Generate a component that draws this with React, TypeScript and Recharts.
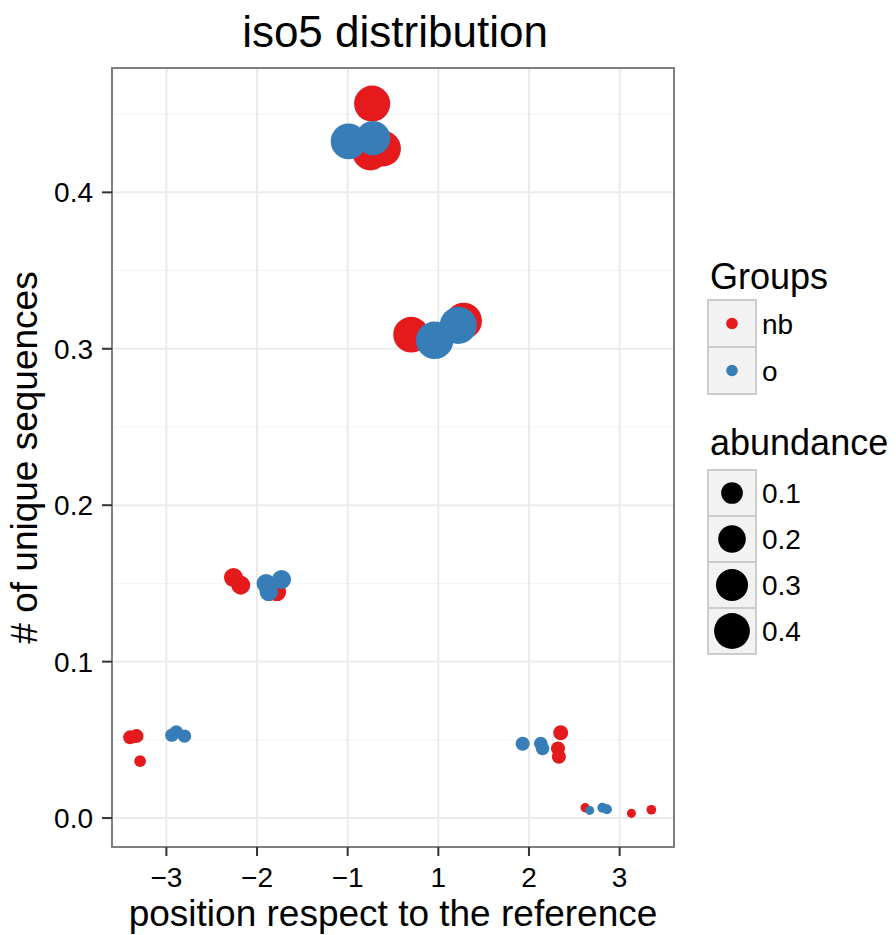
import { ScatterChart, Scatter, XAxis, YAxis, CartesianGrid, ReferenceArea, Label } from "recharts"

// discrete x categories (position respect to the reference)
const positionLabels = ["−3", "−2", "−1", "1", "2", "3"]
const yTicks = [0, 0.1, 0.2, 0.3, 0.4]
const yMinor = [0.05, 0.15, 0.25, 0.35, 0.45]
const abundanceBreaks = [0.1, 0.2, 0.3, 0.4]

// group "nb": category index (1..6), horizontal jitter, y value, abundance
const nbCategory = [1, 1, 1, 2, 2, 2, 3, 3, 3, 4, 4, 5, 5, 5, 6, 6, 6]
const nbJitter = [-0.4, -0.33, -0.29, -0.26, -0.18, 0.22, 0.27, 0.25, 0.39, -0.3, 0.28, 0.35, 0.32, 0.33, -0.38, 0.13, 0.35]
const nbSequences = [0.0516, 0.0524, 0.0364, 0.1538, 0.1489, 0.1446, 0.4567, 0.4256, 0.428, 0.309, 0.3178, 0.0545, 0.0445, 0.0392, 0.0066, 0.003, 0.0053]
const nbAbundance = [0.023, 0.023, 0.0115, 0.066, 0.066, 0.06, 0.41, 0.41, 0.4, 0.4, 0.42, 0.029, 0.023, 0.023, 0.0057, 0.0054, 0.0062]

// group "o"
const oCategory = [1, 1, 1, 2, 2, 2, 3, 3, 4, 4, 5, 5, 5, 6, 6, 6]
const oJitter = [0.06, 0.11, 0.2, 0.1, 0.13, 0.27, 0.01, 0.28, -0.04, 0.22, -0.07, 0.13, 0.15, -0.33, -0.19, -0.14]
const oSequences = [0.053, 0.0551, 0.0524, 0.15, 0.1446, 0.1525, 0.4326, 0.4347, 0.3054, 0.315, 0.0475, 0.0477, 0.0445, 0.0049, 0.0066, 0.0056]
const oAbundance = [0.019, 0.019, 0.019, 0.066, 0.06, 0.066, 0.4, 0.36, 0.45, 0.44, 0.023, 0.02, 0.02, 0.0054, 0.0068, 0.0068]

const RED = "#E41A1C"
const BLUE = "#377EB8"
const FONT = "'Liberation Sans', Arial, Helvetica, sans-serif"

const nbData = nbCategory.map((c, i) => ({ x: c + nbJitter[i], y: nbSequences[i], abundance: nbAbundance[i] }))
const oData = oCategory.map((c, i) => ({ x: c + oJitter[i], y: oSequences[i], abundance: oAbundance[i] }))

// area-style size scale, like ggplot's scale_size
function radiusOf(a: number) {
  return (8.15 + 44 * Math.sqrt(Math.max(a - 0.005, 0))) / 2
}

const dot = (color: string) => (props: any) => {
  const { cx, cy, payload } = props
  if (cx == null || cy == null) return null
  return <circle cx={cx} cy={cy} r={radiusOf(payload.abundance)} fill={color} />
}

const X_DOMAIN: [number, number] = [0.4, 6.6]
const Y_DOMAIN: [number, number] = [-0.0185, 0.4795]

export default function App() {
  const keyX = 708
  const keyW = 48
  const keyH = 47

  return (
    <div style={{ position: "absolute", left: 0, top: 0, width: 896, height: 935, background: "#fff", fontFamily: FONT }}>
      <ScatterChart width={896} height={935} margin={{ top: 68, right: 222, bottom: 0, left: 0 }}>
        <CartesianGrid
          horizontalValues={yMinor}
          vertical={false}
          stroke="#F4F4F4"
          strokeWidth={1}
        />
        <CartesianGrid
          horizontalValues={yTicks}
          verticalValues={[1, 2, 3, 4, 5, 6]}
          stroke="#EBEBEB"
          strokeWidth={2}
        />
        <XAxis
          type="number"
          dataKey="x"
          domain={X_DOMAIN}
          ticks={[1, 2, 3, 4, 5, 6]}
          interval={0}
          allowDataOverflow
          tickFormatter={(v) => positionLabels[Math.round(v) - 1]}
          height={88}
          axisLine={false}
          tickSize={9}
          tickMargin={11}
          tickLine={{ stroke: "#333", strokeWidth: 2 }}
          tick={{ fontSize: 28, fill: "#000", fontFamily: FONT }}
        >
          <Label
            value="position respect to the reference"
            position="insideBottom"
            offset={9}
            style={{ fontSize: 37, fill: "#000", fontFamily: FONT, textAnchor: "middle" }}
          />
        </XAxis>
        <YAxis
          type="number"
          dataKey="y"
          domain={Y_DOMAIN}
          ticks={yTicks}
          interval={0}
          allowDataOverflow
          tickFormatter={(v) => Number(v).toFixed(1)}
          width={112}
          axisLine={false}
          tickSize={10}
          tickMargin={9}
          tickLine={{ stroke: "#333", strokeWidth: 2 }}
          tick={{ fontSize: 28, fill: "#000", fontFamily: FONT }}
        >
          <Label
            value="# of unique sequences"
            position="insideLeft"
            angle={-90}
            offset={24}
            style={{ fontSize: 37, fill: "#000", fontFamily: FONT, textAnchor: "middle" }}
          />
        </YAxis>
        <ReferenceArea
          x1={X_DOMAIN[0]}
          x2={X_DOMAIN[1]}
          y1={Y_DOMAIN[0]}
          y2={Y_DOMAIN[1]}
          fill="none"
          stroke="#7F7F7F"
          strokeWidth={2}
          ifOverflow="visible"
        />
        <Scatter name="nb" data={nbData} fill={RED} shape={dot(RED)} isAnimationActive={false} />
        <Scatter name="o" data={oData} fill={BLUE} shape={dot(BLUE)} isAnimationActive={false} />
      </ScatterChart>

      {/* title + legends */}
      <svg width={896} height={935} style={{ position: "absolute", left: 0, top: 0, pointerEvents: "none" }} fontFamily={FONT}>
        <text x={395} y={47} fontSize={44} textAnchor="middle" fill="#000">iso5 distribution</text>

        <text x={710} y={289} fontSize={36} fill="#000">Groups</text>
        {[["nb", RED], ["o", BLUE]].map(([name, color], i) => {
          const top = 300 + i * keyH
          return (
            <g key={name}>
              <rect x={keyX} y={top} width={keyW} height={keyH} fill="#F2F2F2" stroke="#CCCCCC" strokeWidth={2} />
              <circle cx={keyX + keyW / 2} cy={top + keyH / 2} r={5.8} fill={color} />
              <text x={762} y={top + keyH / 2 + 10} fontSize={28} fill="#000">{name}</text>
            </g>
          )
        })}

        <text x={710} y={455} fontSize={36} fill="#000">abundance</text>
        {abundanceBreaks.map((a, i) => {
          const top = 470 + i * 46
          return (
            <g key={a}>
              <rect x={keyX} y={top} width={keyW} height={46} fill="#F2F2F2" stroke="#CCCCCC" strokeWidth={2} />
              <circle cx={keyX + keyW / 2} cy={top + 23} r={radiusOf(a)} fill="#000" />
              <text x={762} y={top + 23 + 10} fontSize={28} fill="#000">{a.toFixed(1)}</text>
            </g>
          )
        })}
      </svg>
    </div>
  )
}
